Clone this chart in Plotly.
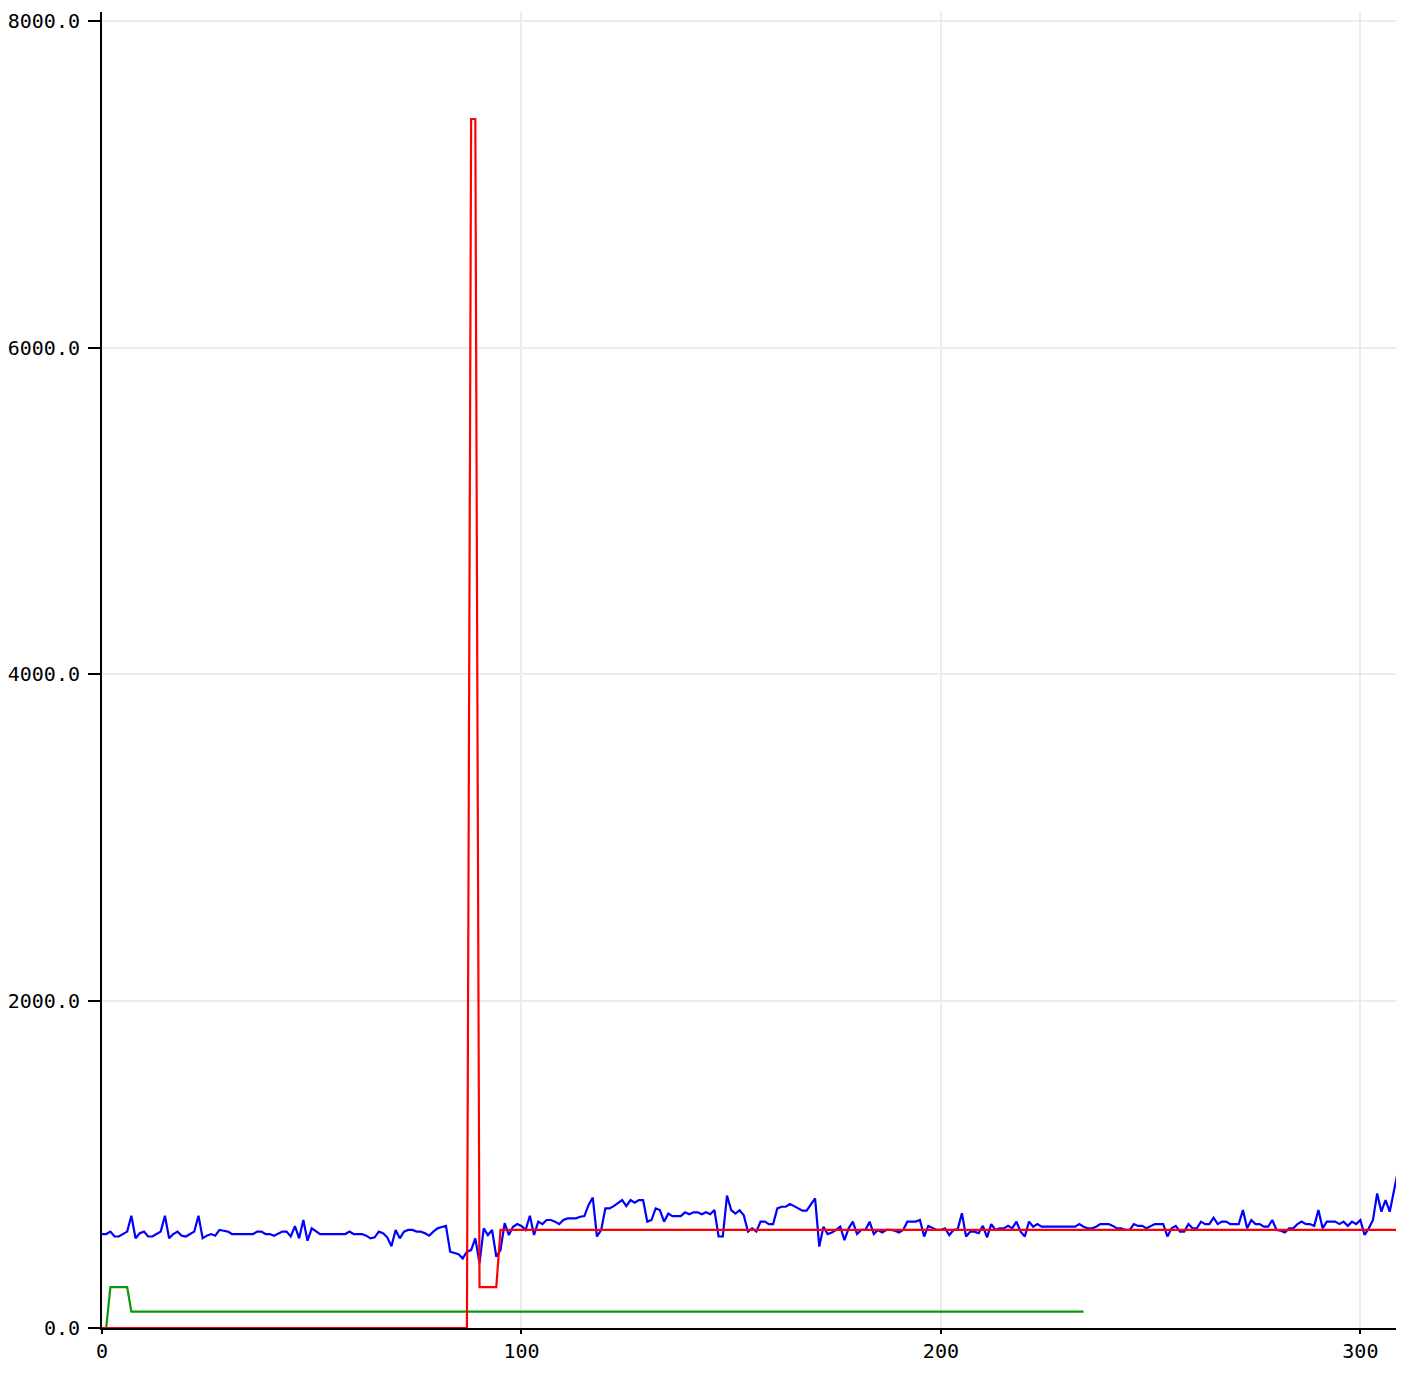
import plotly.graph_objects as go

# blue series: one reading per step, x = 0..310
blue_y = [
    575, 575, 590, 560, 560, 575, 590, 687, 549, 580,
    590, 560, 560, 575, 590, 687, 549, 575, 590, 565,
    560, 575, 590, 687, 549, 565, 575, 565, 600, 595,
    590, 575, 575, 575, 575, 575, 575, 590, 590, 575,
    575, 565, 580, 590, 590, 560, 624, 549, 661, 534,
    610, 590, 575, 575, 575, 575, 575, 575, 575, 590,
    575, 575, 575, 565, 549, 555, 590, 580, 555, 500,
    600, 549, 590, 600, 600, 590, 590, 580, 565, 590,
    610, 618, 625, 467, 457, 451, 426, 467, 477, 549,
    396, 610, 569, 600, 436, 477, 642, 569, 620, 636,
    625, 600, 687, 569, 651, 636, 661, 661, 651, 636,
    661, 671, 671, 671, 681, 685, 753, 798, 560, 600,
    732, 732, 746, 763, 783, 746, 783, 767, 783, 783,
    651, 661, 732, 722, 651, 700, 685, 685, 685, 708,
    696, 708, 708, 696, 708, 696, 722, 560, 560, 810,
    722, 700, 720, 690, 590, 610, 590, 651, 651, 636,
    636, 732, 742, 742, 759, 746, 732, 718, 718, 753,
    794, 498, 620, 575, 585, 600, 620, 538, 610, 651,
    575, 600, 600, 651, 575, 600, 585, 600, 600, 595,
    585, 600, 651, 651, 651, 661, 560, 625, 610, 600,
    600, 610, 569, 600, 604, 702, 560, 590, 590, 580,
    625, 555, 636, 600, 610, 610, 625, 610, 651, 590,
    560, 651, 620, 636, 620, 620, 620, 620, 620, 620,
    620, 620, 620, 636, 620, 610, 610, 620, 636, 636,
    636, 625, 610, 610, 600, 600, 636, 625, 625, 610,
    625, 636, 636, 636, 560, 610, 625, 590, 590, 636,
    610, 610, 651, 636, 636, 675, 636, 651, 651, 636,
    636, 636, 722, 610, 661, 636, 636, 620, 620, 661,
    600, 595, 585, 610, 610, 636, 651, 636, 636, 625,
    722, 610, 651, 651, 651, 636, 651, 625, 651, 636,
    661, 569, 610, 661, 824, 712, 783, 712, 845, 967,
    845,
]
blue_x = list(range(len(blue_y)))

# green series: breakpoints of the step line
green_x = [0, 1, 2, 6, 7, 234]
green_y = [0, 0, 250, 250, 100, 100]

# red series: breakpoints of the step line
red_x = [0, 87, 88, 89, 90, 94, 95, 310]
red_y = [0, 0, 7400, 7400, 250, 250, 600, 600]

x_ticks = [0, 100, 200, 300]
y_ticks = [0, 2000, 4000, 6000, 8000]

X_RANGE = [0, 310.4]
Y_RANGE = [0, 8055]

fig = go.Figure()
fig.add_trace(go.Scatter(x=blue_x, y=blue_y, mode="lines",
                         line=dict(color="#0000ff", width=2.2)))
fig.add_trace(go.Scatter(x=green_x, y=green_y, mode="lines",
                         line=dict(color="#0b990b", width=2.2)))
fig.add_trace(go.Scatter(x=red_x, y=red_y, mode="lines",
                         line=dict(color="#ff0000", width=2.2)))

axis_font = dict(family="DejaVu Sans Mono", size=20, color="black")


def tick_axis(vals, rng, ticks_dir, length, overlay, anchor):
    """Extra label-less axis used only to draw tick marks."""
    return dict(
        overlaying=overlay, matches=overlay, anchor=anchor, range=rng,
        tickvals=vals, showticklabels=False, showgrid=False,
        zeroline=False, showline=False,
        ticks=ticks_dir, ticklen=length, tickwidth=2, tickcolor="black",
    )


# the page body has an 8px margin; size the figure so the page does not scroll
fig.update_layout(
    width=1396,
    height=1358,
    margin=dict(l=90, r=0, t=4, b=38),
    paper_bgcolor="white",
    plot_bgcolor="white",
    showlegend=False,
    font=axis_font,
    xaxis=dict(
        range=X_RANGE,
        tickvals=x_ticks,
        ticktext=[str(v) for v in x_ticks],
        showgrid=True, gridcolor="#ececec", gridwidth=2,
        zeroline=False, showline=True, linecolor="black", linewidth=2,
        ticks="outside", ticklen=4, tickwidth=2, tickcolor="black",
        tickfont=axis_font,
    ),
    yaxis=dict(
        range=Y_RANGE,
        tickvals=y_ticks,
        ticktext=[f"{v:.1f}" for v in y_ticks],
        showgrid=True, gridcolor="#ececec", gridwidth=2,
        zeroline=False, showline=True, linecolor="black", linewidth=2,
        ticks="outside", ticklen=12, tickwidth=2, tickcolor="black",
        ticklabelstandoff=4,
        tickfont=axis_font,
    ),
    xaxis2=tick_axis(x_ticks, X_RANGE, "outside", 10, "x", "y"),
    xaxis3=tick_axis(x_ticks, X_RANGE, "inside", 8, "x", "y"),
    yaxis2=tick_axis(y_ticks, Y_RANGE, "inside", 5, "y", "x"),
)

fig.write_html("out.html")
